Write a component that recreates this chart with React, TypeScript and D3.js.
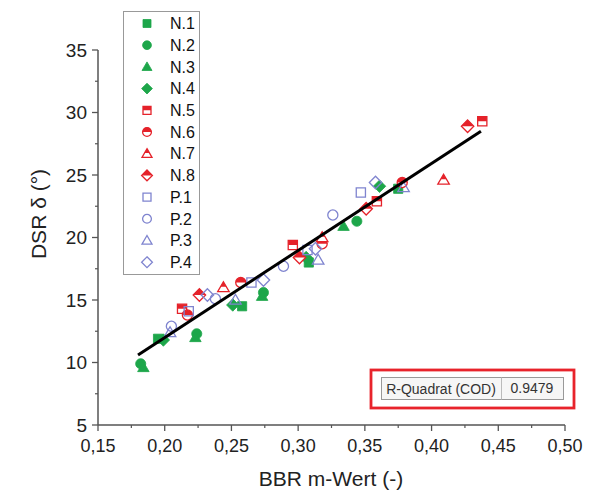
import React from "react";
import * as d3 from "d3";

// ---- data ----
const N1x = [0.195, 0.258, 0.308, 0.375];
const N1y = [11.9, 14.5, 18.0, 23.9];
const N2x = [0.182, 0.224, 0.274, 0.344];
const N2y = [9.9, 12.3, 15.6, 21.3];
const N3x = [0.184, 0.223, 0.273, 0.334];
const N3y = [9.6, 12.0, 15.3, 20.9];
const N4x = [0.199, 0.251, 0.306, 0.361];
const N4y = [11.8, 14.6, 18.4, 24.1];
const N5x = [0.213, 0.296, 0.359, 0.438];
const N5y = [14.3, 19.4, 22.9, 29.3];
const N6x = [0.217, 0.257, 0.318, 0.378];
const N6y = [13.8, 16.4, 19.5, 24.4];
const N7x = [0.244, 0.318, 0.409];
const N7y = [16.0, 20.0, 24.6];
const N8x = [0.226, 0.301, 0.351, 0.427];
const N8y = [15.4, 18.4, 22.3, 28.9];
const P1x = [0.218, 0.265, 0.307, 0.347];
const P1y = [14.1, 16.4, 19.0, 23.6];
const P2x = [0.205, 0.238, 0.289, 0.326];
const P2y = [12.9, 15.1, 17.7, 21.8];
const P3x = [0.204, 0.253, 0.315, 0.379];
const P3y = [12.4, 15.0, 18.2, 24.0];
const P4x = [0.232, 0.274, 0.313, 0.358];
const P4y = [15.4, 16.6, 19.1, 24.4];

const fitSlope = 69.7;
const fitIntercept = -1.95;
const fitRange = [0.18, 0.437];
const rSquared = "0.9479";

const xTicks = [0.15, 0.2, 0.25, 0.3, 0.35, 0.4, 0.45, 0.5];
const yTicks = [5, 10, 15, 20, 25, 30, 35];

type Shape = "square" | "circle" | "triangle" | "diamond";
type Fill = "solid" | "half" | "open";

const GREEN = "#1da64a";
const RED = "#e5222a";
const BLUE = "#7f84cf";

const series: { name: string; xs: number[]; ys: number[]; shape: Shape; fill: Fill; color: string }[] = [
  { name: "N.1", xs: N1x, ys: N1y, shape: "square", fill: "solid", color: GREEN },
  { name: "N.2", xs: N2x, ys: N2y, shape: "circle", fill: "solid", color: GREEN },
  { name: "N.3", xs: N3x, ys: N3y, shape: "triangle", fill: "solid", color: GREEN },
  { name: "N.4", xs: N4x, ys: N4y, shape: "diamond", fill: "solid", color: GREEN },
  { name: "N.5", xs: N5x, ys: N5y, shape: "square", fill: "half", color: RED },
  { name: "N.6", xs: N6x, ys: N6y, shape: "circle", fill: "half", color: RED },
  { name: "N.7", xs: N7x, ys: N7y, shape: "triangle", fill: "half", color: RED },
  { name: "N.8", xs: N8x, ys: N8y, shape: "diamond", fill: "half", color: RED },
  { name: "P.1", xs: P1x, ys: P1y, shape: "square", fill: "open", color: BLUE },
  { name: "P.2", xs: P2x, ys: P2y, shape: "circle", fill: "open", color: BLUE },
  { name: "P.3", xs: P3x, ys: P3y, shape: "triangle", fill: "open", color: BLUE },
  { name: "P.4", xs: P4x, ys: P4y, shape: "diamond", fill: "open", color: BLUE },
];

function shapePath(shape: Shape, h: number): string {
  const p = d3.path();
  if (shape === "square") {
    p.rect(-h, -h, 2 * h, 2 * h);
  } else if (shape === "circle") {
    p.arc(0, 0, h * 1.1, 0, Math.PI * 2);
    p.closePath();
  } else if (shape === "triangle") {
    p.moveTo(0, -h * 1.25);
    p.lineTo(h * 1.25, h * 0.9);
    p.lineTo(-h * 1.25, h * 0.9);
    p.closePath();
  } else {
    p.moveTo(0, -h * 1.35);
    p.lineTo(h * 1.35, 0);
    p.lineTo(0, h * 1.35);
    p.lineTo(-h * 1.35, 0);
    p.closePath();
  }
  return p.toString();
}

function Marker({ x, y, shape, fill, color, h }: { x: number; y: number; shape: Shape; fill: Fill; color: string; h: number }) {
  const d = shapePath(shape, h);
  if (fill === "solid") {
    return <path transform={`translate(${x},${y})`} d={d} fill={color} stroke={color} strokeWidth={0.8} />;
  }
  if (fill === "open") {
    return <path transform={`translate(${x},${y})`} d={d} fill="none" stroke={color} strokeWidth={1.3} />;
  }
  return (
    <g transform={`translate(${x},${y})`}>
      <path d={d} fill="#fff" stroke={color} strokeWidth={1.3} />
      <path d={d} fill={color} clipPath="url(#topHalf)" />
    </g>
  );
}

export default function App() {
  const W = 604;
  const H = 493;
  const x = d3.scaleLinear().domain([0.15, 0.5]).range([98, 565]);
  const y = d3.scaleLinear().domain([5, 35]).range([425, 50]);
  const font = "'Liberation Sans', Arial, sans-serif";
  const axisColor = "#555";
  const xMinor = d3.range(0.175, 0.5, 0.05);
  const yMinor = d3.range(7.5, 35, 5);
  const line = d3
    .line<number>()
    .x((v) => x(v))
    .y((v) => y(fitIntercept + fitSlope * v));

  return (
    <svg width={W} height={H} style={{ position: "absolute", left: 0, top: 0, background: "#fff" }} fontFamily={font}>
      <defs>
        <clipPath id="topHalf" clipPathUnits="objectBoundingBox">
          <rect x={-0.1} y={-0.1} width={1.2} height={0.6} />
        </clipPath>
      </defs>
      <rect width={W} height={H} fill="#fff" />

      {/* axes */}
      <line x1={x(0.15)} x2={x(0.5)} y1={y(5)} y2={y(5)} stroke={axisColor} strokeWidth={1.5} />
      <line x1={x(0.15)} x2={x(0.15)} y1={y(5)} y2={y(35)} stroke={axisColor} strokeWidth={1.5} />
      {xTicks.map((t) => (
        <g key={"xt" + t}>
          <line x1={x(t)} x2={x(t)} y1={y(5)} y2={y(5) + 6} stroke={axisColor} strokeWidth={1.3} />
          <text x={x(t)} y={y(5) + 27} textAnchor="middle" fontSize={18} fill="#222">
            {t.toFixed(2).replace(".", ",")}
          </text>
        </g>
      ))}
      {xMinor.map((t) => (
        <line key={"xm" + t} x1={x(t)} x2={x(t)} y1={y(5)} y2={y(5) + 3} stroke={axisColor} strokeWidth={1.2} />
      ))}
      {yTicks.map((t) => (
        <g key={"yt" + t}>
          <line x1={x(0.15) - 6} x2={x(0.15)} y1={y(t)} y2={y(t)} stroke={axisColor} strokeWidth={1.3} />
          <text x={x(0.15) - 11} y={y(t)} dy="0.35em" textAnchor="end" fontSize={19} fill="#222">
            {t}
          </text>
        </g>
      ))}
      {yMinor.map((t) => (
        <line key={"ym" + t} x1={x(0.15) - 3} x2={x(0.15)} y1={y(t)} y2={y(t)} stroke={axisColor} strokeWidth={1.2} />
      ))}

      {/* axis titles */}
      <text x={331} y={486} textAnchor="middle" fontSize={21} fill="#222">
        BBR m-Wert (-)
      </text>
      <text transform="translate(46,214) rotate(-90)" textAnchor="middle" fontSize={21} fill="#222">
        DSR δ (°)
      </text>

      {/* points */}
      {series.map((s) =>
        s.xs.map((xv, i) => (
          <Marker key={s.name + i} x={x(xv)} y={y(s.ys[i])} shape={s.shape} fill={s.fill} color={s.color} h={4.6} />
        ))
      )}

      {/* regression line */}
      <path d={line(fitRange) || ""} stroke="#000" strokeWidth={3} fill="none" />

      {/* legend */}
      <rect x={123.5} y={11.5} width={76} height={263} fill="#fff" stroke="#999" strokeWidth={1} />
      {series.map((s, i) => (
        <g key={"lg" + s.name}>
          <Marker x={147} y={23.5 + i * 21.7} shape={s.shape} fill={s.fill} color={s.color} h={4} />
          <text x={170} y={23.5 + i * 21.7} dy="0.36em" fontSize={16} fill="#111">
            {s.name}
          </text>
        </g>
      ))}

      {/* R-squared box */}
      <rect x={371} y={370} width={203} height={38} fill="#fff" stroke="#e8232b" strokeWidth={2.8} />
      <rect x={381.5} y={377.5} width={182} height={22} fill="#f6f6f6" stroke="#999" strokeWidth={1} />
      <line x1={501.5} x2={501.5} y1={377.5} y2={399.5} stroke="#bbb" strokeWidth={1} />
      <text x={441} y={389} dy="0.36em" textAnchor="middle" fontSize={14} fill="#333">
        R-Quadrat (COD)
      </text>
      <text x={532} y={388} dy="0.36em" textAnchor="middle" fontSize={14} fill="#333">
        {rSquared}
      </text>
    </svg>
  );
}
